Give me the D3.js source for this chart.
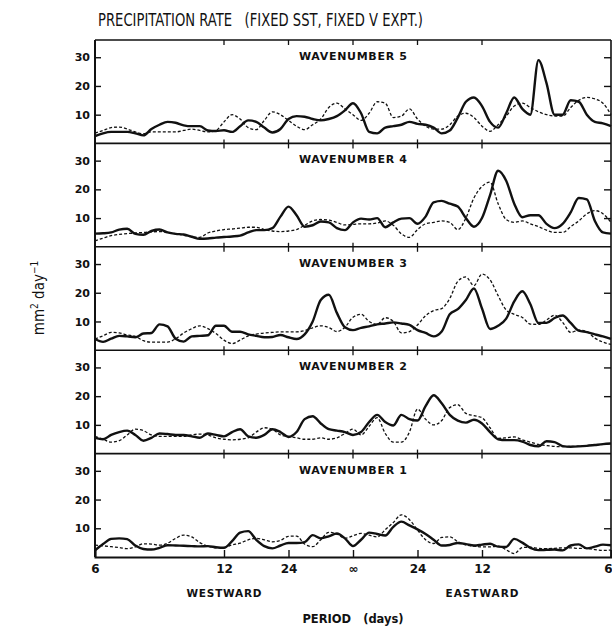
<!DOCTYPE html>
<html>
<head>
<meta charset="utf-8">
<script src="https://cdn.jsdelivr.net/npm/d3@7"></script>
<style>
body { margin: 0; background: #fff; }
text { fill: #111; }
.cond { font-family: "Liberation Sans Narrow", "DejaVu Sans Condensed", "Liberation Sans", sans-serif; }
.bold { font-family: "DejaVu Sans", "Liberation Sans", sans-serif; font-weight: bold; }
</style>
</head>
<body>
<div id="chart"></div>
<script>
// samples every 1/192 cycles per day, from period 6 days westward to 6 days eastward
let sampleK = d3.range(-32, 33)

let panelNames = ["WAVENUMBER 5", "WAVENUMBER 4", "WAVENUMBER 3", "WAVENUMBER 2", "WAVENUMBER 1"]

let xTickFreqs = [-1/6, -1/12, -1/24, 0, 1/24, 1/12, 1/6]
let xTickLabels = ["6", "12", "24", "\u221e", "24", "12", "6"]
let yTickValues = [10, 20, 30]

let wave5Solid = [2.5,3.5,4.0,4.0,4.0,3.5,2.8,5.0,6.5,7.5,7.2,6.3,6.0,6.0,4.5,4.3,4.6,4.0,6.0,8.0,7.5,5.5,3.8,5.0,8.5,9.5,9.3,8.5,8.0,8.5,9.5,11.5,
    14.0,10.5,4.0,3.5,5.5,6.0,6.5,7.5,6.8,6.5,5.5,3.5,4.5,9.0,14.5,16.0,13.0,7.5,5.5,10.5,16.0,12.0,10.0,29.0,21.0,10.0,10.0,15.0,14.5,10.0,7.5,7.0,6.0]
let wave5Dashed = [3.6,4.5,5.5,5.7,5.0,4.0,3.3,4.0,4.0,4.0,4.0,4.5,5.0,4.5,4.0,4.5,7.5,10.0,8.5,5.5,4.8,8.0,11.0,10.0,8.0,6.0,4.8,6.5,8.5,12.5,14.0,12.0,
    10.0,8.0,10.5,14.5,14.0,9.0,9.5,12.0,8.5,6.0,5.0,5.0,6.5,9.5,10.5,9.0,6.0,4.2,6.5,9.5,13.0,14.0,12.5,11.0,10.0,9.5,9.5,12.5,15.0,16.0,15.5,14.0,10.0]

let wave4Solid = [4.6,4.7,5.0,6.0,6.3,4.5,4.2,5.5,6.0,5.0,4.5,4.3,3.5,2.8,2.9,3.2,3.4,3.6,3.9,5.0,5.8,5.8,6.5,10.5,14.0,11.0,7.0,7.5,8.8,8.5,6.5,5.8,
    8.5,9.8,9.5,10.0,6.8,8.5,9.8,10.0,8.0,10.5,15.5,16.0,15.0,14.0,10.0,7.0,10.0,18.0,26.5,23.0,15.0,10.3,11.0,11.0,8.0,6.5,8.0,12.0,17.0,16.5,9.0,5.0,4.6]
let wave4Dashed = [2.1,3.0,3.9,4.3,4.6,4.8,5.0,5.2,5.3,5.0,4.6,4.0,3.5,3.3,4.8,5.5,6.0,6.2,6.5,6.8,6.8,6.0,5.5,5.3,5.5,6.0,7.5,9.0,9.5,9.3,8.5,7.6,
    7.8,8.0,8.0,8.3,9.0,7.5,4.5,3.3,6.0,8.0,8.5,9.0,8.5,6.0,10.0,17.0,21.0,22.5,15.0,9.5,8.5,9.0,8.0,7.0,5.8,5.0,5.0,7.0,9.0,11.5,12.6,11.5,8.5]

let wave3Solid = [3.9,2.9,4.0,5.0,4.8,4.5,5.8,6.0,9.0,8.3,4.0,3.0,4.8,5.0,5.2,8.5,8.5,6.4,6.4,5.5,5.0,4.5,4.6,5.3,4.5,3.9,5.5,10.0,17.5,19.3,13.0,8.0,
    7.0,7.8,8.3,9.0,9.3,9.7,9.3,8.8,7.0,6.0,4.8,6.5,12.5,14.3,17.5,21.5,14.5,7.4,8.5,11.0,17.0,20.5,16.0,9.5,9.5,11.2,12.1,9.5,6.8,6.3,5.5,4.8,3.9]
let wave3Dashed = [3.9,5.0,6.2,6.0,5.3,4.8,3.3,2.8,2.8,2.8,4.0,6.0,7.5,8.5,7.5,5.8,3.5,2.3,3.5,5.0,5.6,6.0,6.2,6.4,6.4,6.4,6.8,7.8,8.5,7.9,6.5,8.0,
    11.5,12.5,10.0,9.0,11.3,10.0,6.0,6.5,8.8,12.0,13.8,14.5,18.0,24.0,25.5,22.5,26.5,24.5,19.0,14.0,12.5,11.4,9.1,9.0,10.5,12.2,9.7,6.2,7.0,6.5,4.2,2.8,2.0]

let wave2Solid = [5.5,5.0,6.5,7.5,8.0,6.5,4.5,5.5,7.0,6.8,6.5,6.5,6.0,5.5,7.0,6.5,6.0,7.5,8.5,6.0,5.5,6.5,8.5,7.5,5.8,7.5,12.0,13.0,10.5,8.5,8.0,7.5,
    6.5,7.5,11.0,13.5,11.0,9.8,13.5,12.0,11.5,16.5,20.3,17.5,13.5,11.5,10.8,11.8,10.5,7.5,5.0,4.7,4.7,4.2,3.0,2.5,4.3,4.0,2.6,2.4,2.5,2.7,3.0,3.3,3.5]
let wave2Dashed = [6.0,5.0,4.0,4.5,6.5,8.5,8.0,6.5,6.0,6.0,6.0,6.0,6.5,6.8,6.5,5.5,5.0,4.8,5.0,5.5,7.5,9.0,8.5,6.5,6.0,5.5,5.0,5.0,5.5,5.0,5.5,7.0,
    8.5,6.5,9.5,12.5,7.0,4.0,4.0,7.5,15.5,12.0,10.0,11.5,16.0,17.0,14.0,13.2,12.5,9.0,5.3,5.5,5.8,4.8,4.0,3.2,2.8,2.5,2.4,2.5,2.6,2.8,3.0,3.2,3.5]

let wave1Solid = [2.3,4.5,6.3,6.5,6.2,4.0,2.8,2.6,3.2,4.1,4.0,3.9,3.8,3.7,3.8,3.4,3.2,5.5,8.5,9.0,6.0,3.8,3.0,4.0,4.9,4.9,5.2,7.6,6.5,7.2,8.2,6.5,
    3.8,6.0,8.5,8.0,7.5,10.5,12.3,11.0,9.6,8.0,6.0,4.0,4.2,4.9,4.5,4.0,4.3,4.6,3.6,3.5,6.3,5.0,3.2,2.4,2.5,2.6,2.3,4.0,4.4,3.0,3.6,4.3,4.1]
let wave1Dashed = [4.1,3.9,3.6,3.3,2.9,3.5,4.6,4.5,4.1,4.8,6.5,7.6,7.0,5.0,3.8,3.2,3.3,4.2,4.8,6.0,6.5,6.0,5.3,5.8,7.2,7.3,4.5,3.6,6.0,8.6,8.0,6.5,
    7.4,8.2,7.6,7.0,9.5,12.0,14.7,13.0,9.4,6.0,4.7,6.8,7.0,5.3,4.2,3.8,3.5,3.5,3.8,2.5,1.2,3.3,3.4,3.0,2.9,3.0,3.2,3.2,3.0,3.0,2.6,2.3,2.4]

let solidSeries = [wave5Solid, wave4Solid, wave3Solid, wave2Solid, wave1Solid]
let dashedSeries = [wave5Dashed, wave4Dashed, wave3Dashed, wave2Dashed, wave1Dashed]

let chartW = 612, chartH = 628
let plotLeft = 95, plotRight = 611, plotTop = 40, plotBottom = 557
let panelH = (plotBottom - plotTop) / 5

let svg = d3.select("#chart")
    .append("svg")
    .attr("width", chartW)
    .attr("height", chartH)

let x = d3.scaleLinear().domain([-1/6, 1/6]).range([plotLeft, plotRight])

svg.append("text")
    .attr("class", "cond")
    .attr("x", 98)
    .attr("y", 26)
    .attr("textLength", 325)
    .attr("lengthAdjust", "spacingAndGlyphs")
    .style("font-size", "18px")
    .style("white-space", "pre")
    .text("PRECIPITATION RATE   (FIXED SST, FIXED V EXPT.)")

panelNames.forEach((name, i) => {
    let y0 = plotTop + i * panelH
    let y = d3.scaleLinear().domain([0, 36]).range([y0 + panelH, y0])

    let g = svg.append("g").attr("class", "panel")

    let leftAxis = g.append("g")
        .attr("transform", `translate(${plotLeft},0)`)
        .call(d3.axisLeft(y).tickValues(yTickValues).tickSize(-6).tickPadding(5))
    leftAxis.select(".domain").remove()
    leftAxis.selectAll("line").attr("stroke", "#111").attr("stroke-width", 1.4)
    leftAxis.selectAll("text")
        .attr("class", "bold")
        .style("font-size", "11px")
        .attr("fill", "#111")

    let rightAxis = g.append("g")
        .attr("transform", `translate(${plotRight},0)`)
        .call(d3.axisRight(y).tickValues(yTickValues).tickSize(-7).tickFormat(""))
    rightAxis.select(".domain").remove()
    rightAxis.selectAll("line").attr("stroke", "#111").attr("stroke-width", 1.4)

    // small ticks crossing the panel's top edge
    let inner = xTickFreqs.slice(1, -1)
    g.selectAll(".xtick")
        .data(inner)
        .enter()
        .append("line")
        .attr("x1", d => x(d))
        .attr("x2", d => x(d))
        .attr("y1", i == 0 ? y0 : y0 - 4)
        .attr("y2", y0 + 5)
        .attr("stroke", "#111")
        .attr("stroke-width", 1.3)

    g.append("line")
        .attr("x1", plotLeft).attr("x2", plotRight)
        .attr("y1", y0).attr("y2", y0)
        .attr("stroke", "#111")
        .attr("stroke-width", 1.6)

    g.append("text")
        .attr("class", "bold")
        .attr("x", x(0))
        .attr("y", y0 + 20)
        .attr("text-anchor", "middle")
        .attr("textLength", 108)
        .attr("lengthAdjust", "spacing")
        .style("font-size", "11px")
        .text(name)

    let line = d3.line()
        .x((d, j) => x(sampleK[j] / 192))
        .y(d => y(d))
        .curve(d3.curveMonotoneX)

    g.append("path")
        .datum(dashedSeries[i])
        .attr("d", line)
        .attr("fill", "none")
        .attr("stroke", "#111")
        .attr("stroke-width", 1.3)
        .attr("stroke-dasharray", "3,2")

    g.append("path")
        .datum(solidSeries[i])
        .attr("d", line)
        .attr("fill", "none")
        .attr("stroke", "#111")
        .attr("stroke-width", 2.4)
        .attr("stroke-linejoin", "round")
})

// frame sides and bottom axis
svg.append("line").attr("x1", plotLeft).attr("x2", plotLeft).attr("y1", plotTop).attr("y2", plotBottom)
    .attr("stroke", "#111").attr("stroke-width", 2)
svg.append("line").attr("x1", plotRight).attr("x2", plotRight).attr("y1", plotTop).attr("y2", plotBottom)
    .attr("stroke", "#111").attr("stroke-width", 1.6)

let bottomAxis = svg.append("g")
    .attr("transform", `translate(0,${plotBottom})`)
    .call(d3.axisBottom(x).tickValues(xTickFreqs).tickSize(-7).tickPadding(7.5)
        .tickFormat((d, i) => xTickLabels[i]))
bottomAxis.select(".domain").attr("stroke", "#111").attr("stroke-width", 2)
bottomAxis.selectAll("line").attr("stroke", "#111").attr("stroke-width", 1.4)
bottomAxis.selectAll("text")
    .attr("class", "bold")
    .attr("fill", "#111")
    .style("font-size", "12px")
// the last label sits at the page edge, keep it inside
bottomAxis.selectAll("text").filter((d, i) => i == xTickLabels.length - 1)
    .attr("text-anchor", "end")
    .attr("dx", 1)

svg.append("text")
    .attr("class", "bold")
    .attr("x", x(-1/12))
    .attr("y", 597)
    .attr("text-anchor", "middle")
    .attr("textLength", 75)
    .attr("lengthAdjust", "spacing")
    .style("font-size", "10.5px")
    .text("WESTWARD")

svg.append("text")
    .attr("class", "bold")
    .attr("x", x(1/12))
    .attr("y", 597)
    .attr("text-anchor", "middle")
    .attr("textLength", 73)
    .attr("lengthAdjust", "spacing")
    .style("font-size", "10.5px")
    .text("EASTWARD")

svg.append("text")
    .attr("class", "bold")
    .attr("x", x(0))
    .attr("y", 623)
    .attr("text-anchor", "middle")
    .style("font-size", "11.5px")
    .style("white-space", "pre")
    .text("PERIOD   (days)")

let ylab = svg.append("text")
    .attr("class", "cond")
    .attr("transform", "translate(44,298) rotate(-90)")
    .attr("text-anchor", "middle")
    .style("font-size", "15px")
ylab.append("tspan").text("mm")
ylab.append("tspan").attr("dy", -6).style("font-size", "10px").text("2")
ylab.append("tspan").attr("dy", 6).text(" day")
ylab.append("tspan").attr("dy", -6).style("font-size", "10px").text("\u22121")
</script>
</body>
</html>
